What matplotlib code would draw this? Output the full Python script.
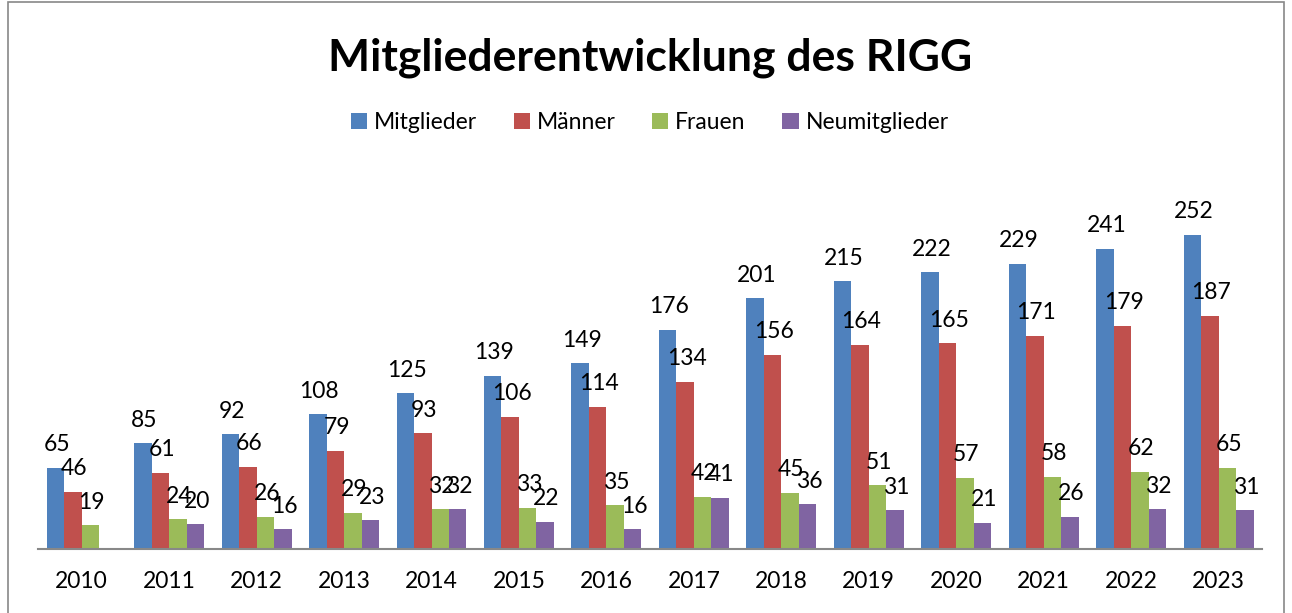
import numpy as np
import matplotlib.pyplot as plt
from matplotlib.patches import Rectangle

years = ['2010', '2011', '2012', '2013', '2014', '2015', '2016',
         '2017', '2018', '2019', '2020', '2021', '2022', '2023']
mitglieder = [65, 85, 92, 108, 125, 139, 149, 176, 201, 215, 222, 229, 241, 252]
maenner = [46, 61, 66, 79, 93, 106, 114, 134, 156, 164, 165, 171, 179, 187]
frauen = [19, 24, 26, 29, 32, 33, 35, 42, 45, 51, 57, 58, 62, 65]
neumitglieder = [np.nan, 20, 16, 23, 32, 22, 16, 41, 36, 31, 21, 26, 32, 31]

series = ['Mitglieder', 'Männer', 'Frauen', 'Neumitglieder']
values = [mitglieder, maenner, frauen, neumitglieder]
colors = ['#4F81BD', '#C0504D', '#9BBB59', '#8064A2']

plt.rcParams['font.family'] = ['Lato', 'DejaVu Sans']

fig = plt.figure(figsize=(12.92, 6.13), dpi=100)
ax = fig.add_axes([0.0294, 0.1044, 0.9476, 0.61])

x = np.arange(len(years))
w = 0.2
for i, (name, vals, c) in enumerate(zip(series, values, colors)):
    pos = x - 0.3 + i * w
    ax.bar(pos, vals, width=w, color=c, label=name)
    # value labels above the bars (Excel style, they overlap where the original does)
    for p, v in zip(pos, vals):
        if np.isnan(v):
            continue
        ax.annotate(str(int(v)), (p, v), xytext=(1, 9), textcoords='offset points',
                    ha='center', va='bottom', fontsize=16.5)

ax.set_xlim(-0.5, len(years) - 0.5)
ax.set_ylim(0, 300)
ax.set_xticks(x)
ax.set_xticklabels(years, fontsize=16.5)
ax.tick_params(axis='x', length=0, pad=16)
ax.set_yticks([])
for s in ['top', 'right', 'left']:
    ax.spines[s].set_visible(False)
ax.spines['bottom'].set_color('#888888')
ax.spines['bottom'].set_linewidth(1.5)

fig.text(0.503, 0.905, 'Mitgliederentwicklung des RIGG', ha='center', va='center',
         fontsize=32, fontweight='bold')
fig.legend(loc='center', bbox_to_anchor=(0.503, 0.80), ncol=4, frameon=False,
           fontsize=16.5, handlelength=0.7, handleheight=0.7, handletextpad=0.3,
           columnspacing=1.6)

fig.patches.append(Rectangle((0.006, -0.01), 0.988, 1.006, transform=fig.transFigure,
                             fill=False, edgecolor='#888888', linewidth=1.2))

fig.savefig('out.png', dpi=100)
